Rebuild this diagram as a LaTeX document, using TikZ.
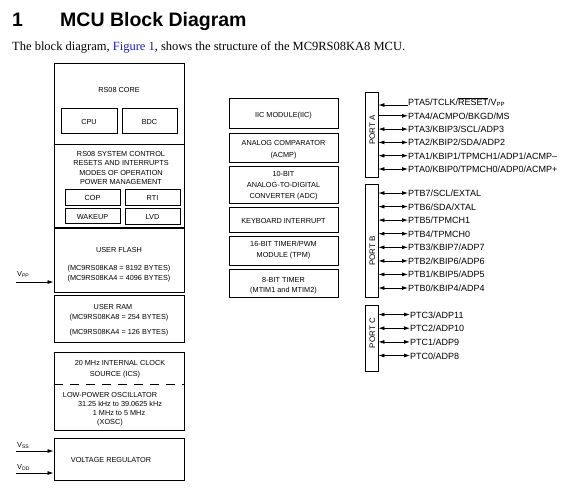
\documentclass[tikz,border=0pt]{standalone}
\usepackage{fontspec}
\setmainfont{Liberation Serif}
\setsansfont{Liberation Sans}
\usetikzlibrary{arrows.meta,fit}
\definecolor{figblue}{RGB}{25,25,190}
\begin{document}
\begin{tikzpicture}[x=1pt,y=-1pt,
  box/.style={draw, line width=0.9pt, inner sep=0pt},
  lbl/.style={font=\sffamily\fontsize{7.3}{8}\selectfont, inner sep=0pt, text height=0.716em, text depth=0pt},
  pin/.style={font=\sffamily\fontsize{9}{10}\selectfont, inner sep=0pt, anchor=west, text height=0.716em, text depth=0pt},
  sig/.style={font=\sffamily\fontsize{7.3}{8}\selectfont, inner sep=0pt, anchor=west, text height=0.716em, text depth=0pt},
  tip/.tip={Latex[length=6pt,width=4pt]},
  arr/.style={-tip, line width=0.8pt},
  biarr/.style={tip-tip, line width=0.8pt}]
\useasboundingbox (0,0) rectangle (572,487);
% heading
\node[anchor=base west, inner sep=0pt, font=\sffamily\bfseries\fontsize{19.5}{22}\selectfont] (num) at (12,27) {1};
\node[anchor=base west, inner sep=0pt, font=\sffamily\bfseries\fontsize{19.5}{22}\selectfont] (ttl) at (60,27) {MCU Block Diagram};
\node[anchor=base west, inner sep=0pt, font=\fontsize{12.5}{14}\selectfont] (body) at (12,50) {The block diagram, \textcolor{figblue}{Figure 1}, shows the structure of the MC9RS08KA8 MCU.};
% left column
\node[box, fit={(54,63) (184,227)}] (core) {};
\draw[line width=0.9pt] (core.west |- 0,144) -- (core.east |- 0,144);
\node[lbl] (coret) at (119,89) {RS08 CORE};
\node[box, fit={(61,108) (117,133)}] (cpu) {};
\node[lbl] at (cpu.center) (cput) {CPU};
\node[box, fit={(122,108) (177,133)}] (bdc) {};
\node[lbl] at (bdc.center) (bdct) {BDC};
\node[lbl] (sc1) at (121,153) {RS08 SYSTEM CONTROL};
\node[lbl] (sc2) at (121,162) {RESETS AND INTERRUPTS};
\node[lbl] (sc3) at (121,171.5) {MODES OF OPERATION};
\node[lbl] (sc4) at (121,181) {POWER MANAGEMENT};
\node[box, fit={(65,189) (120,205)}] (cop) {};
\node[lbl] at (cop.center) (copt) {COP};
\node[box, fit={(125,189) (180,205)}] (rti) {};
\node[lbl] at (rti.center) (rtit) {RTI};
\node[box, fit={(65,208) (120,223.5)}] (wku) {};
\node[lbl] at (wku.center) (wkut) {WAKEUP};
\node[box, fit={(125,208) (180,224)}] (lvd) {};
\node[lbl] at (lvd.center) (lvdt) {LVD};
\node[box, fit={(54,228.5) (184,292)}] (flash) {};
\node[lbl] (fl1) at (119,249) {USER FLASH};
\node[lbl] (fl2) at (119,267) {(MC9RS08KA8 = 8192 BYTES)};
\node[lbl] (fl3) at (119,277) {(MC9RS08KA4 = 4096 BYTES)};
\node[box, fit={(54,295) (184,342)}] (ram) {};
\node[lbl] (ra1) at (113,306) {USER RAM};
\node[lbl] (ra2) at (119,316) {(MC9RS08KA8 = 254 BYTES)};
\node[lbl] (ra3) at (119,331) {(MC9RS08KA4 = 126 BYTES)};
\node[box, fit={(54,352) (184,430)}] (ics) {};
\node[lbl] (ic1) at (120,362) {20 MHz INTERNAL CLOCK};
\node[lbl] (ic2) at (115,373) {SOURCE (ICS)};
\draw[line width=0.9pt, dash pattern=on 9pt off 7pt] (ics.west |- 0,384) -- (ics.east |- 0,384);
\node[lbl] (os1) at (110,394) {LOW-POWER OSCILLATOR};
\node[lbl] (os2) at (120,403) {31.25 kHz to 39.0625 kHz};
\node[lbl] (os3) at (119,412) {1 MHz to 5 MHz};
\node[lbl] (os4) at (110,421) {(XOSC)};
\node[box, fit={(54,438) (184,480)}] (vreg) {};
\node[lbl] (vrt) at (111,459) {VOLTAGE REGULATOR};
% supply inputs
\node[sig] (vppl) at (17,273) {V\textsubscript{PP}};
\coordinate (vppin) at (16,282);
\draw[arr] (vppin) -- (vppin -| flash.west);
\node[sig] (vssl) at (17,444) {V\textsubscript{SS}};
\coordinate (vssin) at (16,451);
\draw[arr] (vssin) -- (vssin -| vreg.west);
\node[sig] (vddl) at (17,466) {V\textsubscript{DD}};
\coordinate (vddin) at (16,473);
\draw[arr] (vddin) -- (vddin -| vreg.west);
% middle column
\node[box, fit={(229,98) (338,128)}] (iic) {};
\node[lbl] (iict) at (283.5,114) {IIC MODULE(IIC)};
\node[box, fit={(229,133) (338,162)}] (acmp) {};
\node[lbl] (acmp1) at (283.5,142) {ANALOG COMPARATOR};
\node[lbl] (acmp2) at (283.5,154) {(ACMP)};
\node[box, fit={(229,166) (338,203)}] (adc) {};
\node[lbl] (adc1) at (283.5,173) {10-BIT};
\node[lbl] (adc2) at (283.5,184) {ANALOG-TO-DIGITAL};
\node[lbl] (adc3) at (283.5,195) {CONVERTER (ADC)};
\node[box, fit={(229,207) (338,232)}] (kbi) {};
\node[lbl] (kbit) at (283.5,220) {KEYBOARD INTERRUPT};
\node[box, fit={(229,236) (338,265)}] (tpm) {};
\node[lbl] (tpm1) at (283.5,243) {16-BIT TIMER/PWM};
\node[lbl] (tpm2) at (283.5,254) {MODULE (TPM)};
\node[box, fit={(229,269) (338,297)}] (mtim) {};
\node[lbl] (mtim1) at (283.5,279) {8-BIT TIMER};
\node[lbl] (mtim2) at (283.5,289) {(MTIM1 and MTIM2)};
% ports
\node[box, fit={(365,92) (378,177)}] (porta) {};
\node[lbl, rotate=90, font=\sffamily\fontsize{8}{9}\selectfont] (portal) at (371.5,130) {PORT A};
\node[box, fit={(365,184) (378,297)}] (portb) {};
\node[lbl, rotate=90, font=\sffamily\fontsize{8}{9}\selectfont] (portbl) at (371.5,251) {PORT B};
\node[box, fit={(365,305) (378,371)}] (portc) {};
\node[lbl, rotate=90, font=\sffamily\fontsize{8}{9}\selectfont] (portcl) at (371.5,333) {PORT C};
% port A pins
\node[pin] (pa5) at (408,102) {PTA5/TCLK/$\overline{\mbox{RESET}}$/V\textsubscript{PP}};
\node[pin] (pa4) at (408,115.8) {PTA4/ACMPO/BKGD/MS};
\node[pin] (pa3) at (408,129.1) {PTA3/KBIP3/SCL/ADP3};
\node[pin] (pa2) at (408,142.4) {PTA2/KBIP2/SDA/ADP2};
\node[pin] (pa1) at (408,155.7) {PTA1/KBIP1/TPMCH1/ADP1/ACMP\textendash};
\node[pin] (pa0) at (408,169) {PTA0/KBIP0/TPMCH0/ADP0/ACMP+};
\coordinate (pa5c) at (408,105);
\draw[arr] (pa5c) -- (pa5c -| porta.east);
\draw[arr] (pa4.west -| porta.east) -- (pa4.west);
\foreach \p in {pa3,pa2,pa1,pa0} \draw[biarr] (\p.west -| porta.east) -- (\p.west);
% port B pins
\node[pin] (pb7) at (408,193) {PTB7/SCL/EXTAL};
\node[pin] (pb6) at (408,206.6) {PTB6/SDA/XTAL};
\node[pin] (pb5) at (408,220.1) {PTB5/TPMCH1};
\node[pin] (pb4) at (408,233.7) {PTB4/TPMCH0};
\node[pin] (pb3) at (408,247.3) {PTB3/KBIP7/ADP7};
\node[pin] (pb2) at (408,260.9) {PTB2/KBIP6/ADP6};
\node[pin] (pb1) at (408,274.4) {PTB1/KBIP5/ADP5};
\node[pin] (pb0) at (408,288) {PTB0/KBIP4/ADP4};
\foreach \p in {pb7,pb6,pb5,pb4,pb3,pb2,pb1,pb0} \draw[biarr] (\p.west -| portb.east) -- (\p.west);
% port C pins
\node[pin] (pc3) at (410,314.5) {PTC3/ADP11};
\node[pin] (pc2) at (410,328.2) {PTC2/ADP10};
\node[pin] (pc1) at (410,341.9) {PTC1/ADP9};
\node[pin] (pc0) at (410,355.5) {PTC0/ADP8};
\foreach \p in {pc3,pc2,pc1,pc0} \draw[biarr] (\p.west -| portc.east) -- (\p.west);
\end{tikzpicture}
\end{document}
